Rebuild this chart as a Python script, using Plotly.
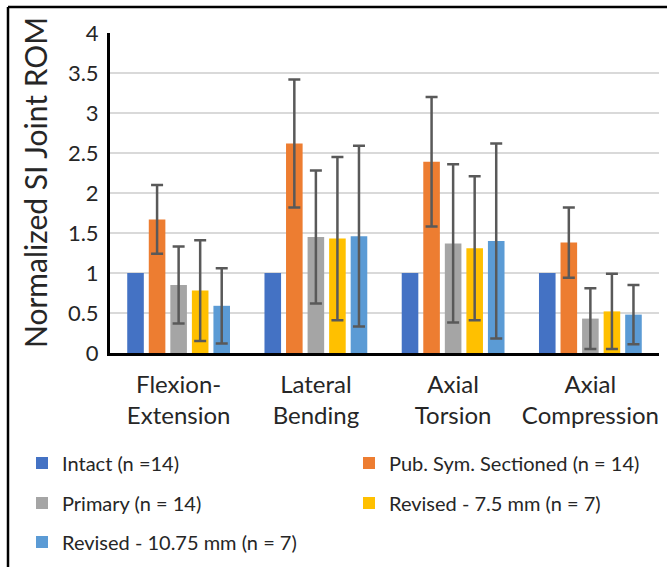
import plotly.graph_objects as go

categories = ["Flexion-<br>Extension", "Lateral<br>Bending", "Axial<br>Torsion", "Axial<br>Compression"]

series_names = [
    "Intact (n =14)",
    "Pub. Sym. Sectioned (n = 14)",
    "Primary (n = 14)",
    "Revised - 7.5 mm (n = 7)",
    "Revised - 10.75 mm (n = 7)",
]
intact = [1.0, 1.0, 1.0, 1.0]
pub_sym = [1.67, 2.62, 2.39, 1.38]
primary = [0.85, 1.45, 1.37, 0.43]
revised_75 = [0.78, 1.43, 1.31, 0.52]
revised_1075 = [0.59, 1.46, 1.40, 0.48]

pub_sym_err = [0.43, 0.80, 0.81, 0.44]
primary_err = [0.48, 0.83, 0.99, 0.38]
revised_75_err = [0.63, 1.02, 0.90, 0.47]
revised_1075_err = [0.47, 1.13, 1.22, 0.37]

colors = ["#4472C4", "#ED7D31", "#A5A5A5", "#FFC000", "#5B9BD5"]
values = [intact, pub_sym, primary, revised_75, revised_1075]
errors = [None, pub_sym_err, primary_err, revised_75_err, revised_1075_err]
legend_ids = ["legend", "legend", "legend2", "legend2", "legend3"]

FONT = "Lato"
TXT = "#262626"

fig = go.Figure()
for name, vals, err, col, lg in zip(series_names, values, errors, colors, legend_ids):
    kw = {}
    if err is not None:
        kw["error_y"] = dict(type="data", array=err, visible=True,
                             color="#595959", thickness=2.5, width=6)
    fig.add_trace(go.Bar(x=categories, y=vals, name=name, marker_color=col,
                         marker_line_width=0, legend=lg, **kw))

W, H = 667, 567
L, R, T, B = 110, 8, 33, 214
pw, ph = W - L - R, H - T - B

def px_x(p):
    return (p - L) / pw

def px_y(p):
    return (H - B - p) / ph

leg_common = dict(orientation="h", xanchor="left", yanchor="middle",
                  entrywidth=282, entrywidthmode="pixels",
                  font=dict(family=FONT, size=20, color=TXT),
                  bgcolor="rgba(0,0,0,0)", traceorder="normal")

fig.update_layout(
    width=W, height=H,
    margin=dict(l=L, r=R, t=T, b=B, autoexpand=False),
    paper_bgcolor="white", plot_bgcolor="white",
    barmode="group", bargap=0.215, bargroupgap=0.23,
    font=dict(family=FONT, color=TXT),
    legend=dict(x=px_x(22), y=px_y(463), **leg_common),
    legend2=dict(x=px_x(22), y=px_y(503), **leg_common),
    legend3=dict(x=px_x(22), y=px_y(542), **leg_common),
    xaxis=dict(showline=True, linecolor="black", linewidth=3,
               tickfont=dict(family=FONT, size=24, color=TXT),
               ticks="", ticklabelstandoff=8, showgrid=False),
    yaxis=dict(range=[0, 4], dtick=0.5, showline=True, linecolor="black", linewidth=3,
               showgrid=True, gridcolor="#D9D9D9", gridwidth=1.5,
               tickfont=dict(family=FONT, size=22, color=TXT),
               ticks="", ticklabelstandoff=4, zeroline=False),
    annotations=[dict(text="Normalized SI Joint ROM", textangle=-90,
                      x=px_x(35), y=px_y(183), xref="paper", yref="paper",
                      xanchor="center", yanchor="middle",
                      showarrow=False, font=dict(family=FONT, size=30, color=TXT))],
    shapes=[
        dict(type="line", xref="paper", yref="paper", x0=px_x(8), x1=px_x(680),
             y0=px_y(7), y1=px_y(7), line=dict(color="black", width=2.5)),
        dict(type="line", xref="paper", yref="paper", x0=px_x(8), x1=px_x(8),
             y0=px_y(7), y1=px_y(600), line=dict(color="black", width=2.5)),
    ],
)

fig.write_html("out.html", config={"displayModeBar": False},
               post_script="document.body.style.margin='0px';document.body.style.overflow='hidden';")
